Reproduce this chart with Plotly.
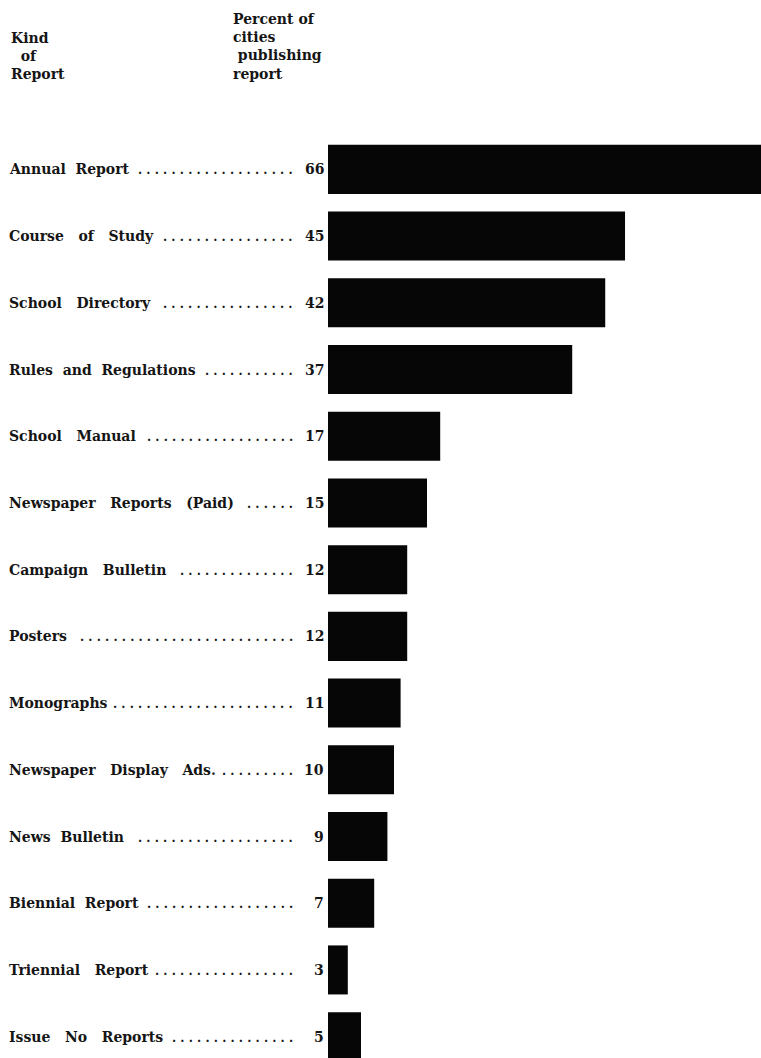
import plotly.graph_objects as go

# ---- data ----
categories = [
    "Annual Report", "Course  of  Study", "School  Directory", "Rules and Regulations",
    "School  Manual", "Newspaper  Reports  (Paid)", "Campaign  Bulletin", "Posters",
    "Monographs", "Newspaper  Display  Ads.", "News Bulletin", "Biennial Report",
    "Triennial  Report", "Issue  No  Reports",
]
percents = [66, 45, 42, 37, 17, 15, 12, 12, 11, 10, 9, 7, 3, 5]
value_labels = ["66", "45", "42", "37", "17", "15", "12", "12", "11", "10", "9", "7", "3", "5"]
# number of leader dots printed after each label
leader_dots = [19, 16, 16, 11, 18, 6, 14, 26, 22, 9, 19, 18, 17, 15]

# ---- layout constants ----
W, H = 761, 1058
ML, MR, MT, MB = 328, 0, 136, 0
PLOT_W = W - ML - MR
PLOT_H = H - MT - MB
FONT = "DejaVu Serif"
INK = "#151515"


def px(x_page):
    return (x_page - ML) / PLOT_W


def py(y_page):
    return 1 + (MT - y_page) / PLOT_H


def spaced(s):
    s = s.replace("  ", "\u00a0\u00a0\u00a0")
    return s.replace(" ", "\u00a0\u00a0")


fig = go.Figure()
fig.add_trace(go.Bar(
    x=percents, y=categories, orientation="h",
    marker=dict(color="#060606", line=dict(width=0)),
    width=0.735, hoverinfo="skip",
))

annotations = []
for cat, val, nd in zip(categories, value_labels, leader_dots):
    dots = " ".join(["."] * nd)
    # leader dots
    annotations.append(dict(
        x=px(295), xref="paper", y=cat, yref="y", xanchor="right", yanchor="middle",
        text=f"<b>{dots}</b>", showarrow=False, yshift=-1,
        font=dict(family=FONT, size=12, color=INK),
    ))
    # label
    annotations.append(dict(
        x=px(4), xref="paper", y=cat, yref="y", xanchor="left", yanchor="middle",
        text=f"<b>{spaced(cat)}</b>", showarrow=False, borderpad=4,
        font=dict(family=FONT, size=14, color=INK),
    ))
    # value
    annotations.append(dict(
        x=px(326), xref="paper", y=cat, yref="y", xanchor="right", yanchor="middle",
        text=f"<b>{val}</b>", showarrow=False,
        font=dict(family=FONT, size=14, color=INK),
    ))

# headers
annotations.append(dict(
    x=px(9), xref="paper", y=py(28), yref="paper",
    xanchor="left", yanchor="top", align="left", showarrow=False,
    text="<b>Kind<br>\u00a0\u00a0of<br>Report</b>",
    font=dict(family=FONT, size=14, color=INK),
))
annotations.append(dict(
    x=px(231), xref="paper", y=py(9), yref="paper",
    xanchor="left", yanchor="top", align="left", showarrow=False,
    text="<b>Percent of<br>cities<br>\u00a0publishing<br>report</b>",
    font=dict(family=FONT, size=14, color=INK),
))

fig.update_layout(
    width=W, height=H,
    margin=dict(l=ML, r=MR, t=MT, b=MB, pad=0),
    paper_bgcolor="white", plot_bgcolor="white",
    showlegend=False,
    xaxis=dict(range=[0, 65.6], visible=False, fixedrange=True),
    yaxis=dict(range=[13.32, -0.5], visible=False, fixedrange=True,
               categoryorder="array", categoryarray=categories),
    annotations=annotations,
)

fig.write_html(
    "out.html",
    config={"displayModeBar": False},
    post_script="document.body.style.margin='0';document.body.style.overflow='hidden';",
)
